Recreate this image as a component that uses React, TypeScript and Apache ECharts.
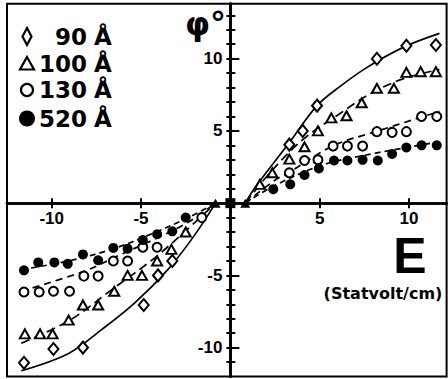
import React, { useEffect, useRef } from "react";
import * as echarts from "echarts";

// ---- measured data (E in statvolt/cm, phi in degrees) ----
const pts90: number[][] = [
  [3.3, 4.05], [4.05, 5.0], [4.85, 6.75], [8.2, 10.0], [9.85, 10.9], [11.5, 10.95],
  [-11.55, -11.05], [-9.9, -10.1], [-8.25, -10.0], [-4.85, -7.05], [-4.05, -5.0], [-3.25, -4.0],
];
const pts100: number[][] = [
  [1.65, 1.3], [2.35, 2.1], [3.3, 3.05], [4.15, 3.9], [4.9, 5.0], [5.65, 5.9], [6.5, 6.05],
  [7.35, 6.95], [8.2, 7.95], [9.15, 7.95], [9.85, 9.05], [10.65, 9.1], [11.5, 9.1],
  [-11.5, -9.05], [-10.65, -9.05], [-9.95, -9.05], [-9.05, -8.1], [-8.25, -7.05], [-7.4, -7.05],
  [-6.5, -6.1], [-5.75, -5.0], [-4.95, -5.0], [-4.1, -4.0], [-3.3, -3.2], [-2.5, -2.0],
];
const pts130: number[][] = [
  [3.3, 2.1], [4.15, 2.95], [4.9, 3.0], [5.75, 3.95], [6.55, 3.95], [7.4, 3.95],
  [8.2, 4.95], [9.05, 4.9], [9.85, 4.95], [10.7, 6.0], [11.55, 6.0],
  [-11.55, -6.15], [-10.7, -6.15], [-9.9, -6.1], [-9.0, -6.1], [-8.2, -5.05], [-7.4, -5.05],
  [-6.55, -4.0], [-5.75, -4.0], [-4.9, -3.05], [-4.1, -3.05], [-1.6, -1.0],
];
const pts520: number[][] = [
  [2.4, 0.97], [3.35, 1.3], [4.15, 1.95], [4.95, 2.4], [5.8, 2.95], [6.55, 2.95],
  [7.4, 3.0], [8.25, 2.95], [9.05, 3.4], [9.85, 3.85], [10.7, 4.0], [11.55, 4.0],
  [-11.55, -4.65], [-10.75, -4.1], [-9.85, -4.1], [-9.1, -4.2], [-8.25, -3.55], [-7.4, -3.95],
  [-6.55, -3.1], [-5.75, -3.15], [-4.9, -2.55], [-4.1, -2.15], [-3.25, -1.95], [-2.5, -1.0],
];
const originSquare: number[][] = [[0, 0]];
const originTriangles: number[][] = [[-0.83, 0], [0.83, 0]];

// fitted curves
const fit90Pos: number[][] = [[0.83, 0], [1.45, 1.2], [3.3, 4.2], [4.85, 6.75], [6.05, 8.0], [7.65, 9.4], [9.7, 10.8], [11.7, 11.75]];
const fit90Neg: number[][] = [[-11.7, -11.6], [-9.05, -10.4], [-7.2, -8.75], [-5.35, -6.9], [-3.5, -4.6], [-2.05, -2.3], [-0.83, 0]];
const fit100Pos: number[][] = [[0.83, 0], [2.25, 2.15], [4.1, 4.45], [5.95, 6.05], [7.8, 7.55], [9.65, 8.6], [11.7, 9.25]];
const fit100Neg: number[][] = [[-11.7, -9.7], [-9.05, -8.15], [-6.65, -6.0], [-4.25, -3.8], [-2.4, -1.8], [-0.83, 0]];
const fit130Pos: number[][] = [[0.83, 0], [2.45, 1.55], [3.3, 2.15], [5.8, 4.0], [8.0, 4.9], [11.7, 6.35]];
const fit130Neg: number[][] = [[-11.7, -6.1], [-8.15, -4.7], [-6.3, -3.65], [-4.25, -2.5], [-2.4, -1.35], [-0.83, 0]];
const fit520Pos: number[][] = [[0.83, 0], [2.45, 1.2], [5.05, 2.6], [7.45, 3.3], [11.7, 4.25]];
const fit520Neg: number[][] = [[-11.7, -4.6], [-9.05, -4.0], [-6.65, -3.2], [-4.25, -2.05], [-2.2, -0.9], [-0.83, 0]];

const xTicks = [-10, -5, 5, 10];
const yMajor = [-10, -5, 5, 10];
const yMinor = [-11, -10, -9, -8, -7, -6, -5, -4, -3, -2, -1, 1, 2, 3, 4, 5, 6, 7, 8, 9, 10, 11, 12, 13];
const legendSizes = ["90", "100", "130", "520"];
const legendUnit = "Å";

const X_MIN = -12.5, X_MAX = 12.1, Y_MIN = -12, Y_MAX = 13.8;

export default function App() {
  const ref = useRef<HTMLDivElement>(null);
  useEffect(() => {
    if (!ref.current) return;
    const chart = echarts.init(ref.current, undefined, { renderer: "svg" });
    const black = "#000";
    const G = { left: 7, top: 3.8, width: 439.6, height: 372.7 };
    // pixel position of the zero lines inside the grid, so the axes cross at the origin
    const zeroX = ((0 - X_MIN) / (X_MAX - X_MIN)) * G.width; // from grid left
    const zeroY = ((Y_MAX - 0) / (Y_MAX - Y_MIN)) * G.height; // from grid top
    const axisLine = { show: true, onZero: false, lineStyle: { color: black, width: 2.5 } };
    const lineSeries = (data: number[][], type: any) => ({
      type: "line", data, smooth: 0.35, showSymbol: false, symbol: "none", silent: true,
      lineStyle: { color: black, width: 1.7, type }, z: 2,
    });
    const scatter = (data: number[][], symbol: string, size: any, filled: boolean) => ({
      type: "scatter", data, symbol, symbolSize: size, z: 3,
      itemStyle: { color: filled ? black : "#fff", borderColor: black, borderWidth: filled ? 0 : 2, opacity: 1 },
    });
    const rowY = [36.5, 63.5, 90, 118.5];
    const font = "'DejaVu Sans', sans-serif";
    const graphic: any[] = [
      { type: "polygon", shape: { points: [[27, 28], [31.5, 36.5], [27, 45], [22.5, 36.5]] }, style: { fill: "#fff", stroke: black, lineWidth: 2.2 } },
      { type: "polygon", shape: { points: [[27, 57], [34, 69.5], [20, 69.5]] }, style: { fill: "#fff", stroke: black, lineWidth: 2.2 } },
      { type: "circle", shape: { cx: 27, cy: 90, r: 6 }, style: { fill: "#fff", stroke: black, lineWidth: 2.2 } },
      { type: "circle", shape: { cx: 27, cy: 118.5, r: 8 }, style: { fill: black } },
    ];
    legendSizes.forEach((s, i) => {
      graphic.push({ type: "text", x: 87, y: rowY[i], style: { text: s, align: "right", verticalAlign: "middle", font: `bold 23px ${font}`, fill: black } });
      graphic.push({ type: "text", x: 94, y: rowY[i], style: { text: legendUnit, align: "left", verticalAlign: "middle", font: `bold 23px ${font}`, fill: black } });
    });
    graphic.push({ type: "text", x: 185, y: 24, style: { text: "φ°", align: "left", verticalAlign: "middle", font: `bold 32px ${font}`, fill: black } });
    graphic.push({ type: "text", x: 410, y: 256, style: { text: "E", align: "center", verticalAlign: "middle", font: "bold 50px 'Liberation Sans', sans-serif", fill: black } });
    graphic.push({ type: "text", x: 383, y: 293, style: { text: "(Statvolt/cm)", align: "center", verticalAlign: "middle", font: `bold 16px ${font}`, fill: black } });

    const labelFont = { color: black, fontSize: 17, fontWeight: "bold" as const, fontFamily: "'Liberation Sans', sans-serif" };
    const tickStyle = { color: black, width: 2 };
    chart.setOption({
      animation: false,
      backgroundColor: "#fff",
      grid: {
        left: G.left, top: G.top, width: G.width, height: G.height, containLabel: false, outerBoundsMode: "none",
        show: true, borderColor: black, borderWidth: 2, backgroundColor: "transparent",
      },
      xAxis: [
        {
          type: "value", min: X_MIN, max: X_MAX, position: "bottom", offset: -(G.height - zeroY), axisLine,
          axisTick: { show: true, customValues: xTicks, length: 5, lineStyle: tickStyle },
          axisLabel: { show: true, customValues: xTicks, margin: 7, ...labelFont },
          splitLine: { show: false },
        },
        {
          type: "value", min: X_MIN, max: X_MAX, position: "top", offset: -zeroY, axisLine,
          axisTick: { show: true, customValues: xTicks, length: 5, lineStyle: tickStyle },
          axisLabel: { show: false }, splitLine: { show: false },
        },
      ],
      yAxis: [
        {
          type: "value", min: Y_MIN, max: Y_MAX, position: "left", offset: -zeroX, axisLine,
          axisTick: { show: true, customValues: yMinor, length: 4, lineStyle: tickStyle },
          axisLabel: { show: true, customValues: yMajor, margin: 8, ...labelFont },
          splitLine: { show: false },
        },
        {
          type: "value", min: Y_MIN, max: Y_MAX, position: "right", offset: -(G.width - zeroX), axisLine,
          axisTick: { show: true, customValues: yMinor, length: 5, lineStyle: tickStyle },
          axisLabel: { show: false }, splitLine: { show: false },
        },
        {
          type: "value", min: Y_MIN, max: Y_MAX, position: "right", offset: -(G.width - zeroX), axisLine,
          axisTick: { show: true, customValues: yMajor, length: 9, lineStyle: tickStyle },
          axisLabel: { show: false }, splitLine: { show: false },
        },
      ],
      graphic,
      series: [
        lineSeries(fit90Pos, "solid"),
        lineSeries(fit90Neg, "solid"),
        lineSeries(fit100Pos, [9, 5]),
        lineSeries(fit100Neg, [9, 5]),
        lineSeries(fit130Pos, [7, 5]),
        lineSeries(fit130Neg, [7, 5]),
        lineSeries(fit520Pos, [6, 4]),
        lineSeries(fit520Neg, [6, 4]),
        scatter(pts90, "diamond", [10, 12], false),
        scatter(pts100, "triangle", [10, 9], false),
        scatter(pts130, "circle", 9, false),
        scatter(pts520, "circle", 10, true),
        scatter(originSquare, "rect", 10, true),
        scatter(originTriangles, "triangle", [10, 9], true),
      ],
    });
    return () => chart.dispose();
  }, []);
  return <div ref={ref} style={{ position: "absolute", left: 0, top: 0, width: 448, height: 379, background: "#fff" }} />;
}
